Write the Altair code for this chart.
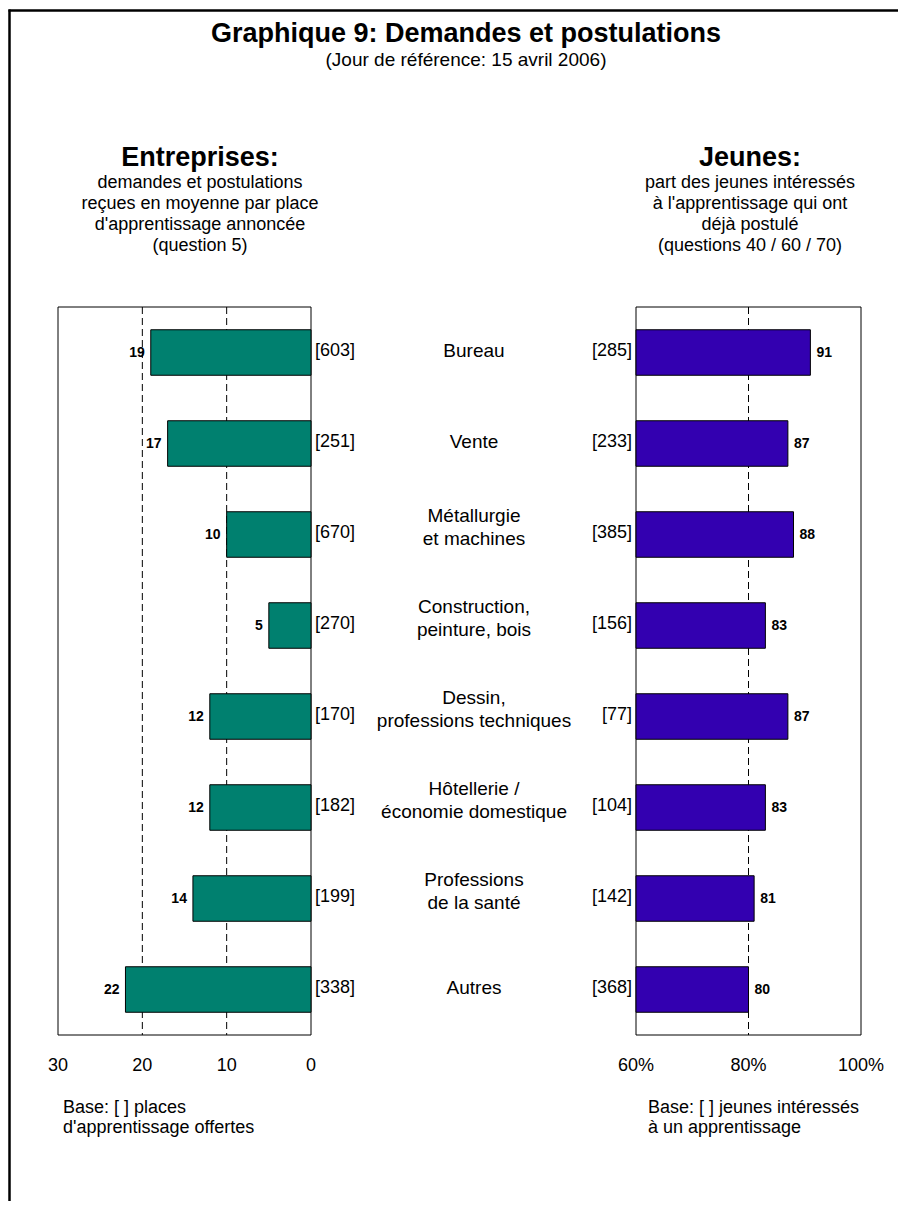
import altair as alt
import pandas as pd

# ---- data ----
categories = ["Bureau", "Vente", "Métallurgie", "Construction", "Dessin",
              "Hôtellerie", "Santé", "Autres"]
category_labels = [
    ["Bureau"],
    ["Vente"],
    ["Métallurgie", "et machines"],
    ["Construction,", "peinture, bois"],
    ["Dessin,", "professions techniques"],
    ["Hôtellerie /", "économie domestique"],
    ["Professions", "de la santé"],
    ["Autres"],
]
entreprises_values = [19, 17, 10, 5, 12, 12, 14, 22]
entreprises_base = [603, 251, 670, 270, 170, 182, 199, 338]
jeunes_values = [91, 87, 88, 83, 87, 83, 81, 80]
jeunes_base = [285, 233, 385, 156, 77, 104, 142, 368]

left_ticks = [30, 20, 10, 0]
left_grid = [20, 10]
right_ticks = [60, 80, 100]
right_grid = [80]

df = pd.DataFrame({
    "cat": categories,
    "label": category_labels,
    "nlines": [len(l) for l in category_labels],
    "ent": entreprises_values,
    "ent_base": [f"[{b}]" for b in entreprises_base],
    "jeu": jeunes_values,
    "jeu_base": [f"[{b}]" for b in jeunes_base],
})

FONT = "Liberation Sans"
TEAL = "#00806F"
PURPLE = "#3300B0"
BODY = 18

# chart pixel geometry (plot frames)
TOP, BOTTOM = 299, 1027
L0, L1 = 303, 50      # left panel: value 0 -> 303, value 30 -> 50
R0, R1 = 628, 853     # right panel: 60% -> 628, 100% -> 853

yscale = alt.Scale(domain=categories, range=[TOP, BOTTOM], paddingInner=0.5, paddingOuter=0.25)
lscale = alt.Scale(domain=[0, 30], range=[L0, L1])
rscale = alt.Scale(domain=[60, 100], range=[R0, R1], zero=False)

Y = alt.Y("cat:N", scale=yscale, axis=None)
base = alt.Chart(df)

# ---------- left panel ----------
lgrid = alt.Chart(pd.DataFrame({"g": left_grid})).mark_rule(
    color="black", strokeWidth=1, strokeDash=[7, 4]
).encode(x=alt.X("g:Q", scale=lscale, axis=None), y=alt.value(TOP), y2=alt.value(BOTTOM))

lframe = alt.Chart(pd.DataFrame({"a": [0], "b": [30]})).mark_rect(
    fill=None, stroke="black", strokeWidth=1
).encode(x=alt.X("a:Q", scale=lscale, axis=None), x2="b:Q", y=alt.value(TOP), y2=alt.value(BOTTOM))

lbars = base.mark_bar(color=TEAL, stroke="black", strokeWidth=1).encode(
    x=alt.X("ent:Q", scale=lscale, axis=None), y=Y)

lvals = base.mark_text(align="right", baseline="middle", dx=-6, font=FONT,
                       fontSize=14, fontWeight="bold", color="black").encode(
    x=alt.X("ent:Q", scale=lscale, axis=None), y=Y, text="ent:Q")

lbase = base.mark_text(align="left", baseline="middle", dx=4, dy=-2, font=FONT,
                       fontSize=BODY, color="black").encode(
    x=alt.X("zero:Q", scale=lscale, axis=None), y=Y, text="ent_base:N"
).transform_calculate(zero="0")

lticks = alt.Chart(pd.DataFrame({"t": left_ticks})).mark_text(
    baseline="middle", font=FONT, fontSize=BODY, color="black"
).encode(x=alt.X("t:Q", scale=lscale, axis=None), y=alt.value(1058), text="t:Q")

left = alt.layer(lgrid, lframe, lbars, lvals, lbase, lticks)

# ---------- right panel ----------
rgrid = alt.Chart(pd.DataFrame({"g": right_grid})).mark_rule(
    color="black", strokeWidth=1, strokeDash=[7, 4]
).encode(x=alt.X("g:Q", scale=rscale, axis=None), y=alt.value(TOP), y2=alt.value(BOTTOM))

rframe = alt.Chart(pd.DataFrame({"a": [60], "b": [100]})).mark_rect(
    fill=None, stroke="black", strokeWidth=1
).encode(x=alt.X("a:Q", scale=rscale, axis=None), x2="b:Q", y=alt.value(TOP), y2=alt.value(BOTTOM))

rbars = base.mark_bar(color=PURPLE, stroke="black", strokeWidth=1).encode(
    x=alt.X("jeu:Q", scale=rscale, axis=None), x2=alt.datum(60), y=Y)

rvals = base.mark_text(align="left", baseline="middle", dx=6, font=FONT,
                       fontSize=14, fontWeight="bold", color="black").encode(
    x=alt.X("jeu:Q", scale=rscale, axis=None), y=Y, text="jeu:Q")

rbase = base.mark_text(align="right", baseline="middle", dx=-4, dy=-2, font=FONT,
                       fontSize=BODY, color="black").encode(
    x=alt.X("sixty:Q", scale=rscale, axis=None), y=Y, text="jeu_base:N"
).transform_calculate(sixty="60")

rticks = alt.Chart(pd.DataFrame({"t": right_ticks})).mark_text(
    baseline="middle", font=FONT, fontSize=BODY, color="black"
).encode(x=alt.X("t:Q", scale=rscale, axis=None), y=alt.value(1058), text="label:N"
).transform_calculate(label="datum.t + '%'")

right = alt.layer(rgrid, rframe, rbars, rvals, rbase, rticks)

# ---------- category labels ----------
cat1 = base.transform_filter("datum.nlines == 1").mark_text(
    align="center", baseline="middle", dy=-2, font=FONT, fontSize=19, color="black"
).encode(x=alt.value(466), y=Y, text="label")
cat2 = base.transform_filter("datum.nlines == 2").mark_text(
    align="center", baseline="middle", dy=-19, lineHeight=23, font=FONT, fontSize=19, color="black"
).encode(x=alt.value(466), y=Y, text="label")

# ---------- free texts ----------
one = alt.Data(values=[{}])


def txt(s, x, y, size=BODY, weight="normal", align="center"):
    return alt.Chart(one).mark_text(
        text=s, align=align, baseline="middle", font=FONT, fontSize=size,
        fontWeight=weight, color="black"
    ).encode(x=alt.value(x), y=alt.value(y))


texts = [
    txt("Graphique 9: Demandes et postulations", 458, 26, 27, "bold"),
    txt("(Jour de référence: 15 avril 2006)", 458, 52, 19),
    txt("Entreprises:", 192, 150, 27, "bold"),
    txt("demandes et postulations", 192, 175),
    txt("reçues en moyenne par place", 192, 196),
    txt("d'apprentissage annoncée", 192, 217),
    txt("(question 5)", 192, 238),
    txt("Jeunes:", 742, 150, 27, "bold"),
    txt("part des jeunes intéressés", 742, 175),
    txt("à l'apprentissage qui ont", 742, 196),
    txt("déjà postulé", 742, 217),
    txt("(questions 40 / 60 / 70)", 742, 238),
    txt("Base: [ ] places", 55, 1100, align="left"),
    txt("d'apprentissage offertes", 55, 1120, align="left"),
    txt("Base: [ ] jeunes intéressés", 640, 1100, align="left"),
    txt("à un apprentissage", 640, 1120, align="left"),
]

border_left = alt.Chart(one).mark_rule(color="black", strokeWidth=2.5).encode(
    x=alt.value(1.5), y=alt.value(1.5), y2=alt.value(1193))
border_top = alt.Chart(one).mark_rule(color="black", strokeWidth=2.5).encode(
    x=alt.value(0.5), x2=alt.value(890), y=alt.value(2.5))

chart = alt.layer(
    left, right, cat1, cat2, *texts, border_left, border_top
).resolve_scale(x="independent").properties(
    width=890, height=1193, autosize="none", padding=0
).configure_view(strokeWidth=0)

chart.save("out.html", embed_options={"renderer": "svg", "actions": False})
